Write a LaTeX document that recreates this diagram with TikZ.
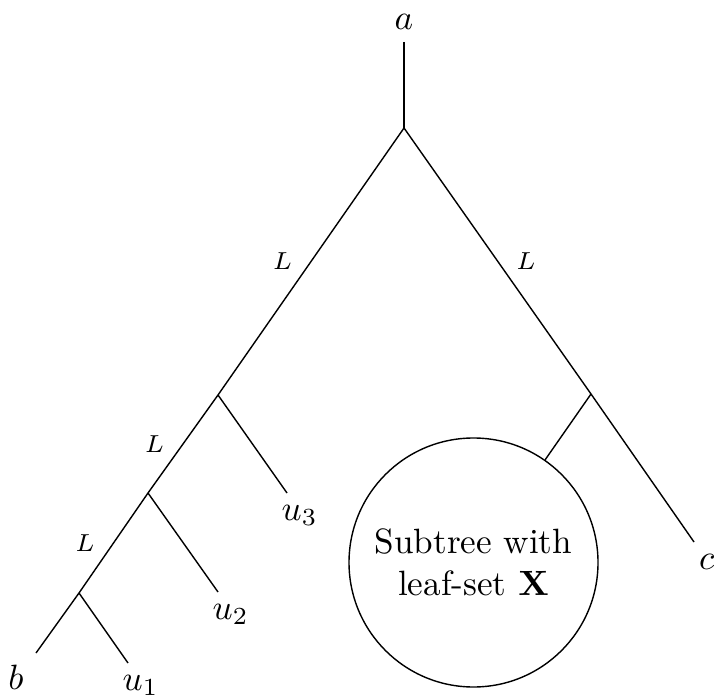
\documentclass[tikz,border=0pt]{standalone}
\usepackage{amsmath}
\usepackage{amssymb}
\usepackage{tikz}
\usetikzlibrary{calc}

\begin{document}
\begin{tikzpicture}[scale=1.0,
    edgelabel/.style={font=\scriptsize},
    leaflabel/.style={below, xshift=3.6pt}]
    \useasboundingbox (0,0) rectangle (7.17,6.96);
    % Root edge and inner vertices
    \coordinate (top) at (4.04, 6.54);
    \coordinate (root) at (4.04, 5.68);
    \coordinate (v3) at (2.18, 3.01);
    \coordinate (v2) at (1.48, 2.03);
    \coordinate (v1) at (0.79, 1.03);
    \coordinate (w) at (5.91, 3.02);
    % Leaf end points
    \coordinate (b) at (0.36, 0.43);
    \coordinate (u1) at (1.28, 0.33);
    \coordinate (u2) at (2.18, 1.04);
    \coordinate (u3) at (2.87, 2.03);
    \coordinate (c) at (6.94, 1.54);
    % Subtree drawn as a circle
    \node[draw, circle, minimum size=2.49cm, inner sep=0pt, align=center] (X) at (4.735, 1.335)
        {Subtree with\\leaf-set $\mathbf{X}$};
    % Edges of the tree
    \draw (top) -- (root);
    \draw (root) -- node[edgelabel, left=1.8pt] (L1) {$L$} (v3);
    \draw (v3) -- node[edgelabel, left=1.8pt] (L2) {$L$} (v2);
    \draw (v2) -- node[edgelabel, left=1.8pt] (L3) {$L$} (v1);
    \draw (v1) -- (b);
    \draw (v1) -- (u1);
    \draw (v2) -- (u2);
    \draw (v3) -- (u3);
    \draw (root) -- node[edgelabel, right=1.8pt] (L4) {$L$} (w);
    \draw (w) -- (c);
    \draw (w) -- (X);
    % Leaf labels
    \node[above] (la) at (top) {$a$};
    \node[below left] (lb) at (b) {$b$};
    \node[leaflabel] (lu1) at (u1) {$u_1$};
    \node[leaflabel] (lu2) at (u2) {$u_2$};
    \node[leaflabel] (lu3) at (u3) {$u_3$};
    \node[leaflabel] (lc) at (c) {$c$};
\end{tikzpicture}
\end{document}
